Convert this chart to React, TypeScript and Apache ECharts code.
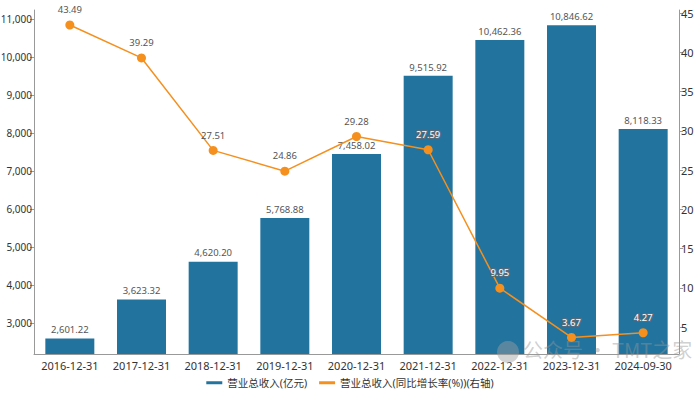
import React, { useEffect, useRef } from "react";
import * as echarts from "echarts";

const categories = [
  "2016-12-31",
  "2017-12-31",
  "2018-12-31",
  "2019-12-31",
  "2020-12-31",
  "2021-12-31",
  "2022-12-31",
  "2023-12-31",
  "2024-09-30",
];
const revenue = [2601.22, 3623.32, 4620.2, 5768.88, 7458.02, 9515.92, 10462.36, 10846.62, 8118.33];
const growth = [43.49, 39.29, 27.51, 24.86, 29.28, 27.59, 9.95, 3.67, 4.27];
const legendNames = ["营业总收入(亿元)", "营业总收入(同比增长率(%))(右轴)"];
const watermark = "公众号 · TMT之家";

const FONT = "'Noto Sans', 'Noto Sans CJK SC', sans-serif";
const BAR = "#22749f";
const ORANGE = "#f5901e";

const fmt = (v: number) =>
  v.toLocaleString("en-US", { minimumFractionDigits: 2, maximumFractionDigits: 2 });

export default function App() {
  const ref = useRef<HTMLDivElement>(null);
  useEffect(() => {
    if (!ref.current) return;
    const chart = echarts.init(ref.current, undefined, { renderer: "svg" });
    const lineData = growth.map((v, i) =>
      i >= 5
        ? {
            value: v,
            label: { color: "#ffffff", textBorderColor: "#5a6a78", textBorderWidth: 2 },
          }
        : { value: v }
    );
    chart.setOption({
      animation: false,
      textStyle: { fontFamily: FONT },
      grid: {
        left: 34,
        right: 21,
        top: 10,
        bottom: 41,
        containLabel: false,
        outerBoundsMode: "none",
      },
      legend: {
        bottom: 2,
        left: "center",
        itemWidth: 16,
        itemHeight: 3,
        itemGap: 12,
        textStyle: { fontSize: 10.5, color: "#333", fontFamily: FONT },
        data: [
          { name: legendNames[0], icon: "rect", itemStyle: { color: BAR } },
          { name: legendNames[1], icon: "rect", itemStyle: { color: ORANGE } },
        ],
      },
      xAxis: {
        type: "category",
        data: categories,
        axisLine: { lineStyle: { color: "#999" } },
        axisTick: { alignWithLabel: true, lineStyle: { color: "#999" } },
        axisLabel: { color: "#333", fontSize: 11, margin: 6, interval: 0, fontFamily: FONT },
      },
      yAxis: [
        {
          type: "value",
          min: 2190,
          max: 11250,
          splitNumber: 9,
          splitLine: { show: false },
          axisLine: { show: true, lineStyle: { color: "#999" } },
          axisTick: { show: true, length: 4, lineStyle: { color: "#999" } },
          axisLabel: {
            color: "#333",
            fontSize: 10,
            margin: 2,
            showMinLabel: false,
            showMaxLabel: false,
            formatter: (v: number) => v.toLocaleString("en-US"),
          },
        },
        {
          type: "value",
          min: 1.56,
          max: 45.4,
          splitNumber: 9,
          position: "right",
          splitLine: { show: false },
          axisLine: { show: true, lineStyle: { color: "#999" } },
          axisTick: { show: true, length: 4, lineStyle: { color: "#999" } },
          axisLabel: {
            color: "#333",
            fontSize: 11,
            margin: 2,
            showMinLabel: false,
            showMaxLabel: false,
          },
        },
      ],
      series: [
        {
          name: legendNames[0],
          type: "bar",
          data: revenue,
          barWidth: 49,
          itemStyle: { color: BAR },
          label: {
            show: true,
            position: "top",
            distance: 4,
            fontSize: 9.5,
            color: "#555",
            formatter: (p: any) => fmt(p.value),
          },
        },
        {
          name: legendNames[1],
          type: "line",
          yAxisIndex: 1,
          data: lineData,
          symbol: "circle",
          symbolSize: 9,
          itemStyle: { color: ORANGE },
          lineStyle: { color: ORANGE, width: 1.5 },
          label: {
            show: true,
            position: "top",
            distance: 6,
            fontSize: 9.5,
            color: "#555",
            formatter: (p: any) => fmt(p.value),
          },
          z: 3,
        },
      ],
      graphic: [
        {
          type: "circle",
          left: 497,
          top: 341,
          shape: { r: 11 },
          style: { fill: "rgba(160,160,160,0.45)" },
          z: 100,
        },
        {
          type: "text",
          left: 523,
          top: 339,
          style: {
            text: watermark,
            fontSize: 20,
            fontFamily: "'Noto Sans CJK SC', sans-serif",
            fill: "rgba(150,150,150,0.45)",
          },
          z: 100,
        },
      ],
    });
    return () => chart.dispose();
  }, []);
  return <div ref={ref} style={{ width: 700, height: 395, position: "absolute", left: 0, top: 0 }} />;
}
